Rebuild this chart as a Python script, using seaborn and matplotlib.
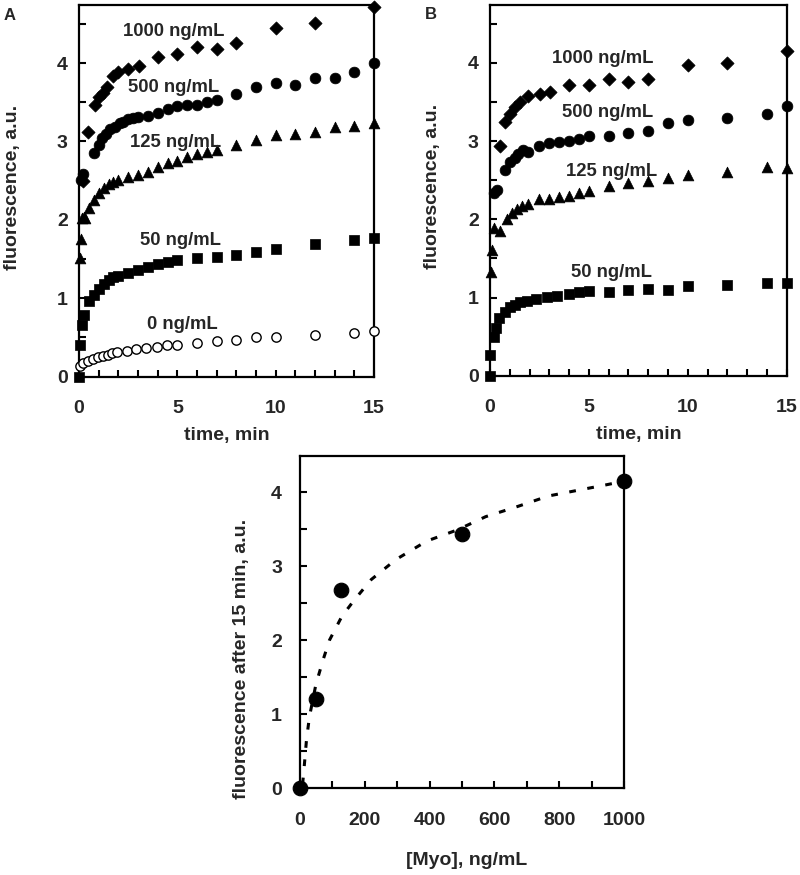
import numpy as np
import pandas as pd
import matplotlib
matplotlib.use("Agg")
import matplotlib.pyplot as plt
import seaborn as sns

#-------------------- DATA --------------------

# Panel A
a_t_0 = [0.05, 0.2, 0.45, 0.7, 0.95, 1.2, 1.45, 1.7, 1.95, 2.45, 2.9, 3.4, 3.95, 4.45, 5,
         6, 7, 8, 9, 10, 12, 14, 15]
a_f_0 = [0.13, 0.17, 0.20, 0.23, 0.25, 0.27, 0.28, 0.30, 0.31, 0.33, 0.35, 0.37, 0.38, 0.40, 0.40,
         0.43, 0.45, 0.47, 0.50, 0.50, 0.53, 0.56, 0.58]

a_t_50 = [0, 0.05, 0.15, 0.25, 0.5, 0.75, 1, 1.25, 1.5, 1.75, 2, 2.5, 3, 3.5, 4, 4.5, 5,
          6, 7, 8, 9, 10, 12, 14, 15]
a_f_50 = [0, 0.40, 0.66, 0.79, 0.96, 1.04, 1.12, 1.18, 1.23, 1.27, 1.28, 1.32, 1.36, 1.40, 1.44, 1.46, 1.49,
          1.51, 1.52, 1.55, 1.59, 1.63, 1.69, 1.74, 1.77]

a_t_125 = [0.05, 0.1, 0.17, 0.25, 0.33, 0.5, 0.75, 1, 1.25, 1.5, 1.75, 2, 2.5, 3, 3.5, 4, 4.5, 5,
           5.5, 6, 6.5, 7, 8, 9, 10, 11, 12, 13, 14, 15]
a_f_125 = [1.51, 1.76, 2.02, 2.04, 2.02, 2.15, 2.25, 2.34, 2.40, 2.46, 2.48, 2.51, 2.55, 2.57, 2.61, 2.68, 2.72, 2.75,
           2.80, 2.84, 2.87, 2.89, 2.96, 3.02, 3.08, 3.10, 3.12, 3.18, 3.20, 3.24]

a_t_500 = [0.1, 0.2, 0.75, 1, 1.15, 1.37, 1.58, 1.83, 2.08, 2.25, 2.5, 2.75, 3, 3.5, 4, 4.5, 5,
           5.5, 6, 6.5, 7, 8, 9, 10, 11, 12, 13, 14, 15]
a_f_500 = [2.51, 2.59, 2.85, 2.95, 3.04, 3.10, 3.16, 3.19, 3.24, 3.25, 3.28, 3.30, 3.31, 3.33, 3.36, 3.41, 3.45,
           3.46, 3.47, 3.50, 3.53, 3.60, 3.70, 3.75, 3.72, 3.81, 3.81, 3.89, 4.00]

a_t_1000 = [0.2, 0.47, 0.81, 1.03, 1.24, 1.44, 1.75, 2, 2.5, 3.07, 4, 5, 6, 7, 8, 10, 12, 15]
a_f_1000 = [2.50, 3.12, 3.46, 3.57, 3.62, 3.69, 3.83, 3.89, 3.93, 3.96, 4.08, 4.12, 4.20, 4.18, 4.25, 4.45, 4.51, 4.71]

# Panel B
b_t_50 = [0, 0.02, 0.22, 0.3, 0.47, 0.76, 1, 1.26, 1.52, 1.85, 2.33, 2.87, 3.37, 4, 4.5, 5,
          6, 7, 8, 9, 10, 12, 14, 15]
b_f_50 = [0, 0.27, 0.50, 0.61, 0.74, 0.82, 0.88, 0.91, 0.94, 0.96, 0.98, 1.01, 1.02, 1.04, 1.07, 1.08,
          1.07, 1.10, 1.11, 1.10, 1.15, 1.16, 1.19, 1.19]

b_t_125 = [0.05, 0.12, 0.2, 0.5, 0.84, 1.1, 1.35, 1.6, 1.94, 2.5, 3, 3.5, 4, 4.5, 5,
           6, 7, 8, 9, 10, 12, 14, 15]
b_f_125 = [1.33, 1.61, 1.89, 1.85, 2.00, 2.08, 2.13, 2.17, 2.19, 2.26, 2.26, 2.28, 2.30, 2.34, 2.36,
           2.42, 2.47, 2.49, 2.53, 2.56, 2.61, 2.67, 2.66]

b_t_500 = [0.22, 0.35, 0.76, 1, 1.26, 1.43, 1.69, 1.94, 2.5, 3, 3.5, 4, 4.5, 5,
           6, 7, 8, 9, 10, 12, 14, 15]
b_f_500 = [2.34, 2.38, 2.63, 2.73, 2.79, 2.83, 2.88, 2.86, 2.94, 2.97, 2.99, 3.00, 3.03, 3.07,
           3.07, 3.10, 3.13, 3.23, 3.27, 3.30, 3.35, 3.45]

b_t_1000 = [0.5, 0.76, 1, 1.26, 1.52, 1.9, 2.53, 3.04, 4, 5, 6, 7, 8, 10, 12, 15]
b_f_1000 = [2.94, 3.24, 3.35, 3.43, 3.50, 3.58, 3.60, 3.63, 3.72, 3.72, 3.80, 3.75, 3.80, 3.97, 4.00, 4.15]

# Panel C
c_conc = [0, 50, 125, 500, 1000]
c_fluor = [0, 1.20, 2.68, 3.44, 4.15]
c_fit_x = [8, 12, 20, 29, 49, 71, 91, 129, 167, 220, 296, 391, 485, 573, 673, 767, 873, 944, 1000]
c_fit_y = [0.05, 0.24, 0.65, 0.96, 1.40, 1.73, 2.00, 2.32, 2.54, 2.82, 3.09, 3.34, 3.49, 3.67, 3.81,
           3.95, 4.04, 4.10, 4.15]

labels = ["0 ng/mL", "50 ng/mL", "125 ng/mL", "500 ng/mL", "1000 ng/mL"]

#-------------------- STYLE --------------------

sns.set_theme(style="ticks")
plt.rcParams["font.family"] = ["Liberation Sans", "DejaVu Sans"]
plt.rcParams["font.weight"] = "bold"
plt.rcParams["axes.labelweight"] = "bold"
plt.rcParams["axes.linewidth"] = 1.6
plt.rcParams["axes.edgecolor"] = "black"

fig = plt.figure(figsize=(8, 8.75), dpi=100)
ax_a = fig.add_axes([0.09875, 0.5695, 0.36875, 0.4248])
ax_b = fig.add_axes([0.6125, 0.5706, 0.3709, 0.4237])
ax_c = fig.add_axes([0.375, 0.0994, 0.405, 0.3794])


def scatter(ax, t, f, marker, s, open_marker=False):
    df = pd.DataFrame({"t": t, "f": f})
    if open_marker:
        sns.scatterplot(data=df, x="t", y="f", marker=marker, s=s, facecolor="white",
                        edgecolor="black", linewidth=1.0, ax=ax, clip_on=False, zorder=3)
    else:
        sns.scatterplot(data=df, x="t", y="f", marker=marker, s=s, color="black",
                        edgecolor="black", linewidth=0.5, ax=ax, clip_on=False, zorder=3)


def style_time_axis(ax):
    ax.set_xlim(0, 15)
    ax.set_ylim(0, 4.74)
    ax.set_xticks([0, 5, 10, 15])
    ax.set_xticks(np.arange(0, 16, 1), minor=True)
    ax.set_yticks([0, 1, 2, 3, 4])
    ax.set_yticks(np.arange(0, 4.6, 0.5), minor=True)
    ax.tick_params(which="both", direction="in", width=1.5, length=5, color="black",
                   top=False, right=False)
    ax.tick_params(axis="x", which="both", pad=17, labelsize=14)
    ax.tick_params(axis="y", which="both", pad=8, labelsize=14)
    ax.set_xlabel("time, min", fontsize=14, fontweight="bold")
    ax.set_ylabel("fluorescence, a.u.", fontsize=14, fontweight="bold")
    ax.xaxis.set_label_coords(0.5, -0.136)
    for sp in ax.spines.values():
        sp.set_visible(True)
        sp.set_linewidth(1.6)


# Panel A
scatter(ax_a, a_t_0, a_f_0, "o", 45, open_marker=True)
scatter(ax_a, a_t_50, a_f_50, "s", 50)
scatter(ax_a, a_t_125, a_f_125, "^", 60)
scatter(ax_a, a_t_500, a_f_500, "o", 60)
scatter(ax_a, a_t_1000, a_f_1000, "D", 45)
style_time_axis(ax_a)
ax_a.yaxis.set_label_coords(-0.195, 0.51)
a_lab_pos = [(5.26, 0.66), (5.18, 1.74), (4.93, 2.99), (4.83, 3.69), (4.83, 4.40)]
for lab, (x, y) in zip(labels, a_lab_pos):
    ax_a.text(x, y, lab, ha="center", va="center", fontsize=13.3, fontweight="bold")

# Panel B
scatter(ax_b, b_t_50, b_f_50, "s", 50)
scatter(ax_b, b_t_125, b_f_125, "^", 60)
scatter(ax_b, b_t_500, b_f_500, "o", 60)
scatter(ax_b, b_t_1000, b_f_1000, "D", 45)
style_time_axis(ax_b)
ax_b.yaxis.set_label_coords(-0.165, 0.51)
b_lab_pos = [(6.15, 1.32), (6.15, 2.61), (5.94, 3.36), (5.69, 4.05)]
for lab, (x, y) in zip(labels[1:], b_lab_pos):
    ax_b.text(x, y, lab, ha="center", va="center", fontsize=13.3, fontweight="bold")

# Panel C
fit = pd.DataFrame({"x": c_fit_x, "y": c_fit_y})
sns.lineplot(data=fit, x="x", y="y", ax=ax_c, color="black", linewidth=2.2,
             linestyle=(0, (2.2, 3.8)), zorder=2)
pts = pd.DataFrame({"x": c_conc, "y": c_fluor})
sns.scatterplot(data=pts, x="x", y="y", ax=ax_c, color="black", s=110, marker="o",
                edgecolor="black", clip_on=False, zorder=3)
ax_c.set_xlim(0, 1000)
ax_c.set_ylim(0, 4.49)
ax_c.set_xticks(np.arange(0, 1001, 200))
ax_c.set_xticks(np.arange(0, 1001, 100), minor=True)
ax_c.set_yticks([0, 1, 2, 3, 4])
ax_c.set_yticks(np.arange(0, 4.5, 0.5), minor=True)
ax_c.tick_params(which="both", direction="in", width=1.5, length=5, color="black")
ax_c.tick_params(axis="x", which="both", pad=17, labelsize=14)
ax_c.tick_params(axis="y", which="both", pad=13, labelsize=14)
for sp in ax_c.spines.values():
    sp.set_visible(True)
    sp.set_linewidth(1.6)
ax_c.set_xlabel("[Myo], ng/mL", fontsize=14, fontweight="bold")
ax_c.set_ylabel("fluorescence after 15 min, a.u.", fontsize=14, fontweight="bold")
ax_c.xaxis.set_label_coords(0.515, -0.192)
ax_c.yaxis.set_label_coords(-0.155, 0.389)

# Panel letters
fig.text(0.004, 0.977, "A", fontsize=12, fontweight="bold")
fig.text(0.531, 0.978, "B", fontsize=12, fontweight="bold")

fig.savefig("out.png", dpi=100)
